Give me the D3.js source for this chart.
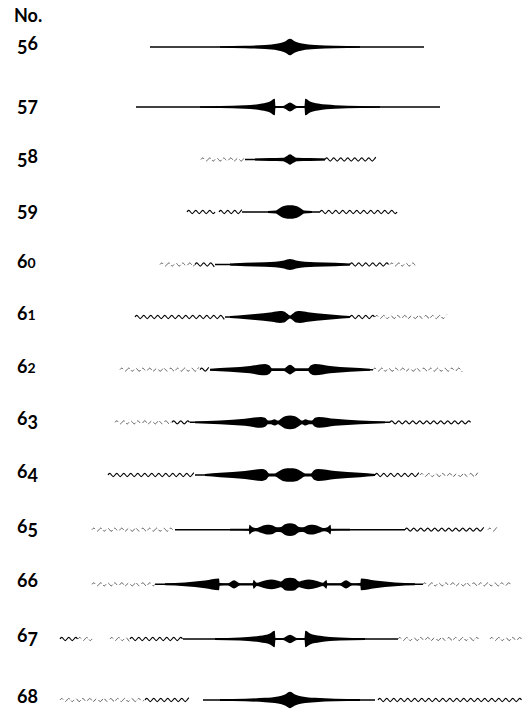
<!DOCTYPE html>
<html>
<head>
<meta charset="UTF-8">
<script src="https://d3js.org/d3.v7.min.js"></script>
<style>
  body { margin: 0; background: #fff; }
  svg { display: block; }
</style>
</head>
<body>
<svg width="528" height="715"></svg>
<script>
  // row labels (old-style figures in the print)
  const labels = ['56', '57', '58', '59', '60', '61', '62', '63', '64', '65', '66', '67', '68'];

  // solid stem of each figure: [left, right] offsets from the centre
  const solidSpans = [
    [-140, 134], [-154, 150], [-45, 35], [-48, 30], [-75, 60], [-65, 60], [-80, 83],
    [-100, 100], [-95, 85], [-115, 115], [-135, 133], [-107, 108], [-87, 85]
  ];

  // wavy tails: [kind, from, to]  (w = clear wave, f = faint broken wave)
  const waveSpans = [
    [],
    [],
    [['f', -89, -45], ['w', 35, 87]],
    [['w', -103, -75], ['w', -71, -48], ['w', 30, 107]],
    [['f', -130, -95], ['w', -95, -75], ['w', 60, 100], ['f', 100, 127]],
    [['w', -155, -65], ['w', 60, 85], ['f', 85, 157]],
    [['f', -170, -90], ['w', -90, -80], ['f', 83, 173]],
    [['f', -175, -118], ['w', -118, -100], ['w', 100, 182]],
    [['w', -182, -95], ['w', 85, 130], ['f', 130, 188]],
    [['f', -198, -115], ['w', 115, 195], ['f', 198, 208]],
    [['f', -198, -135], ['f', 133, 222]],
    [['w', -230, -212], ['f', -212, -195], ['f', -180, -160], ['w', -160, -107], ['f', 108, 190], ['f', 200, 232]],
    [['f', -230, -145], ['w', -145, -100], ['w', 88, 232]]
  ];

  // half-width of the swelling along the right half: [offset, half-width]
  const profiles = [
    [[0, 8.2], [5, 5.5], [12, 3.4], [25, 2], [45, 1.2], [70, 0.8]],
    [[0, 4.5], [3, 3], [7, 1.1], [14.5, 1.1], [15.2, 8.3], [20, 5.5], [28, 3.4], [45, 1.8], [70, 1.1], [90, 0.8]],
    [[0, 5.2], [3, 3.6], [7, 1.7], [20, 1.4], [35, 1.1]],
    [[0, 6.8], [5, 6.3], [9, 4.8], [12, 2.7], [14, 1.5], [22, 1.1]],
    [[0, 5.6], [6, 4.1], [15, 2.8], [35, 2], [55, 1.2], [60, 0.9]],
    [[0, 1.6], [3, 3.5], [6, 5.6], [10, 5.9], [18, 4.7], [35, 2.9], [52, 1.5], [60, 1]],
    [[0, 4.8], [3, 3.2], [6, 1.3], [18, 1.3], [20.5, 4.2], [25, 5.7], [40, 3.7], [60, 2.1], [80, 1]],
    [[0, 6.8], [5, 6.1], [9, 3.7], [12, 1.8], [15.5, 3.2], [19, 2], [22, 1.8], [25, 4.5], [29, 5.4], [45, 3.5], [70, 1.8], [95, 0.9]],
    [[0, 6.8], [6, 6.3], [11, 3.7], [15, 1.6], [21, 1.6], [24, 4.8], [28, 5.9], [45, 3.9], [70, 2.2], [85, 1]],
    [[0, 6.3], [5, 5.3], [9, 2.7], [13, 2.4], [18, 4.5], [23, 4.8], [29, 3.2], [34, 1.6], [38, 2.7], [40.5, 4.8], [41.2, 1], [60, 0.9]],
    [[0, 6.5], [5, 5.8], [9, 2.8], [13, 3.8], [19, 4.8], [27, 3.4], [33, 1.6], [36.5, 4.3], [37.3, 1.2], [50, 1.1], [56, 4.2], [62, 1.1], [70.3, 1.3], [71, 5.9], [85, 3.8], [105, 1.9], [125, 1]],
    [[0, 4.2], [3, 3], [7, 1.1], [14.5, 1.1], [15.3, 8.3], [20, 5.6], [30, 3.3], [50, 1.6], [75, 0.9]],
    [[0, 8.2], [5, 5.6], [12, 3.6], [25, 2.2], [45, 1.3], [70, 0.9]]
  ];

  const svg = d3.select('svg');

  // horizontal scale: offsets from the common centre line
  const x = d3.scaleLinear().domain([-290, 238]).range([0, 528]);

  // vertical placement of each row (print spacing is slightly uneven)
  const y = d3.scaleLinear()
    .domain([0, 1, 5, 8, 11, 12])
    .range([47, 107, 317, 475, 639, 700]);

  const w = d3.scaleLinear().domain([0, 10]).range([0, 10]);

  const area = d3.area()
    .x(d => x(d[0]))
    .y0(d => -w(d[1]))
    .y1(d => w(d[1]))
    .curve(d3.curveMonotoneX);

  const waveLine = d3.line()
    .x(d => x(d[0]))
    .y(d => d[1])
    .curve(d3.curveBasis);

  function wavePoints(a, b) {
    const pts = [];
    const step = 1.75; // quarter of a ~7px wave
    for (let i = 0, t = a; t <= b; i++, t += step) {
      pts.push([t, [0, -2.3, 0, 2.3][i % 4]]);
    }
    return pts;
  }

  labels.forEach((lab, i) => {
    const g = svg.append('g').attr('transform', `translate(0, ${y(i)})`);

    // stem
    g.append('line')
      .attr('x1', x(solidSpans[i][0]))
      .attr('x2', x(solidSpans[i][1]))
      .attr('stroke', '#000')
      .attr('stroke-width', 1.5);

    // wavy tails
    waveSpans[i].forEach(s => {
      g.append('path')
        .attr('d', waveLine(wavePoints(s[1], s[2])))
        .attr('fill', 'none')
        .attr('stroke', s[0] === 'w' ? '#000' : '#555')
        .attr('stroke-width', s[0] === 'w' ? 1.2 : 1)
        .attr('stroke-dasharray', s[0] === 'w' ? null : '4,3,6,2');
    });

    // swelling, mirrored about the centre
    const right = profiles[i];
    const full = right.slice(1).map(p => [-p[0], p[1]]).reverse().concat(right);
    g.append('path')
      .attr('d', area(full))
      .attr('fill', '#000');
  });

  // labels with old-style figures
  const up = { '6': 0, '8': 0 };
  const small = { '0': 1, '1': 1, '2': 1 };

  svg.append('text')
    .attr('x', 14)
    .attr('y', 22)
    .attr('font-family', 'Lato')
    .attr('font-weight', 'bold')
    .attr('font-size', 18)
    .text('No.');

  labels.forEach((lab, i) => {
    const t = svg.append('text')
      .attr('x', 17)
      .attr('y', y(i) + 3)
      .attr('font-family', 'Lato')
      .attr('font-weight', 'bold')
      .attr('font-size', 18);
    let prev = 0;
    lab.split('').forEach(ch => {
      const shift = (ch in up) ? 0 : (ch in small) ? 0 : 4;
      t.append('tspan')
        .attr('dy', shift - prev)
        .attr('font-size', (ch in small) ? 14 : 18)
        .text(ch);
      prev = shift;
    });
  });
</script>
</body>
</html>
